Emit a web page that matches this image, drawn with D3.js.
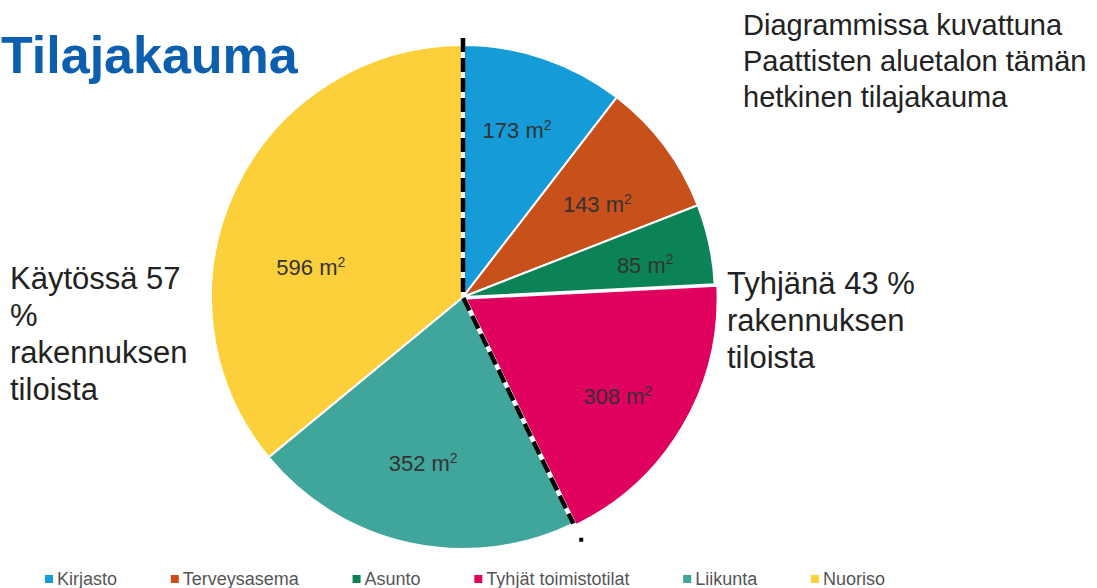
<!DOCTYPE html>
<html>
<head>
<meta charset="utf-8">
<script src="https://cdn.jsdelivr.net/npm/d3@7"></script>
<style>
  body { margin: 0; background: #fff; }
  svg text { font-family: "Liberation Sans", Arial, sans-serif; }
</style>
</head>
<body>
<svg id="chart" width="1097" height="588"></svg>
<script>
// data
var categories = ['Kirjasto', 'Terveysasema', 'Asunto', 'Tyhjät toimistotilat', 'Liikunta', 'Nuoriso'];
var areas = [173, 143, 85, 308, 352, 596];
var colors = ['#159bd7', '#c8501a', '#0b8357', '#e0005e', '#40a59b', '#fcd03b'];
var unusedCount = 4; // first four slices = empty rooms (Tyhjänä)

// label placement tweaks (radius px, angle shift in degrees)
var labelR = [175, 163, 185, 184, 171, 155];
var labelShift = [-0.8, 2.4, 2.2, 2.2, 1.2, -14.3];

var svg = d3.select('#chart');
var cx = 463, cy = 297, radius = 252;

svg.append('text')
  .attr('x', 1).attr('y', 73)
  .attr('font-size', 52).attr('font-weight', 'bold')
  .attr('fill', '#0b5fae')
  .text('Tilajakauma');

function textBlock(x, y, lines, lh, size) {
  var t = svg.append('text').attr('x', x).attr('y', y)
    .attr('font-size', size).attr('fill', '#222');
  lines.forEach(function (l, i) {
    t.append('tspan').attr('x', x).attr('dy', i ? lh : 0).text(l);
  });
}
textBlock(743, 35, ['Diagrammissa kuvattuna', 'Paattisten aluetalon tämän', 'hetkinen tilajakauma'], 36, 29);
textBlock(10, 289, ['Käytössä 57', '%', 'rakennuksen', 'tiloista'], 37, 31);
textBlock(727, 294, ['Tyhjänä 43 %', 'rakennuksen', 'tiloista'], 37, 31);

var pie = d3.pie().sort(null).value(function (d) { return d; });
var arcs = pie(areas);
var arc = d3.arc().innerRadius(0).outerRadius(radius);

var g = svg.append('g').attr('transform', 'translate(' + cx + ',' + cy + ')');

g.selectAll('path.slice')
  .data(arcs).enter().append('path')
  .attr('class', 'slice')
  .attr('d', arc)
  .attr('transform', function (d, i) {
    if (i != 3) return null;
    var m = (d.startAngle + d.endAngle) / 2;
    return 'translate(' + (3 * Math.sin(m)) + ',' + (-3 * Math.cos(m)) + ')';
  })
  .attr('fill', function (d, i) { return colors[i]; })
  .attr('stroke', '#fff')
  .attr('stroke-width', 2);

// dashed split line: top -> centre -> edge between used / empty
var splitAngle = arcs[unusedCount - 1].endAngle;
function pt(r, a) { return [r * Math.sin(a), -r * Math.cos(a)]; }
var splitPts = [pt(radius + 7, 0), [0, 0], pt(radius, splitAngle)];
var line = d3.line();
g.append('path').attr('d', line(splitPts))
  .attr('fill', 'none').attr('stroke', '#fff').attr('stroke-width', 4);
g.append('path').attr('d', line(splitPts))
  .attr('fill', 'none').attr('stroke', '#000').attr('stroke-width', 4.5)
  .attr('stroke-dasharray', '14,6');
var dot = pt(radius + 18, splitAngle);
g.append('rect').attr('x', dot[0] - 2).attr('y', dot[1] - 2)
  .attr('width', 4).attr('height', 4).attr('fill', '#000');

// value labels
var labels = g.selectAll('text.val')
  .data(arcs).enter().append('text')
  .attr('class', 'val')
  .attr('text-anchor', 'middle')
  .attr('font-size', 22)
  .attr('fill', '#333')
  .attr('transform', function (d, i) {
    var m = (d.startAngle + d.endAngle) / 2 + labelShift[i] * Math.PI / 180;
    var p = pt(labelR[i], m);
    return 'translate(' + p[0] + ',' + p[1] + ')';
  })
  .attr('dy', '0.35em');
labels.append('tspan').text(function (d) { return d.data + ' m'; });
labels.append('tspan').attr('font-size', 14).attr('dy', '-0.6em').text('2');

// legend, spread between x=45 and x=885
var lg = svg.append('g').attr('transform', 'translate(0,579)');
var items = categories.map(function (c, i) {
  var it = lg.append('g');
  it.append('rect').attr('x', 0).attr('y', -4).attr('width', 8).attr('height', 8)
    .attr('fill', colors[i]);
  var t = it.append('text').attr('x', 12).attr('y', 0).attr('dy', '0.35em')
    .attr('font-size', 18).attr('fill', '#555')
    .text(c);
  return { g: it, w: 12 + t.node().getComputedTextLength() };
});
var used = d3.sum(items, function (d) { return d.w; });
var gap = (885 - 45 - used) / (items.length - 1);
var lx = 45;
items.forEach(function (it) {
  it.g.attr('transform', 'translate(' + lx + ',0)');
  lx += it.w + gap;
});
</script>
</body>
</html>
